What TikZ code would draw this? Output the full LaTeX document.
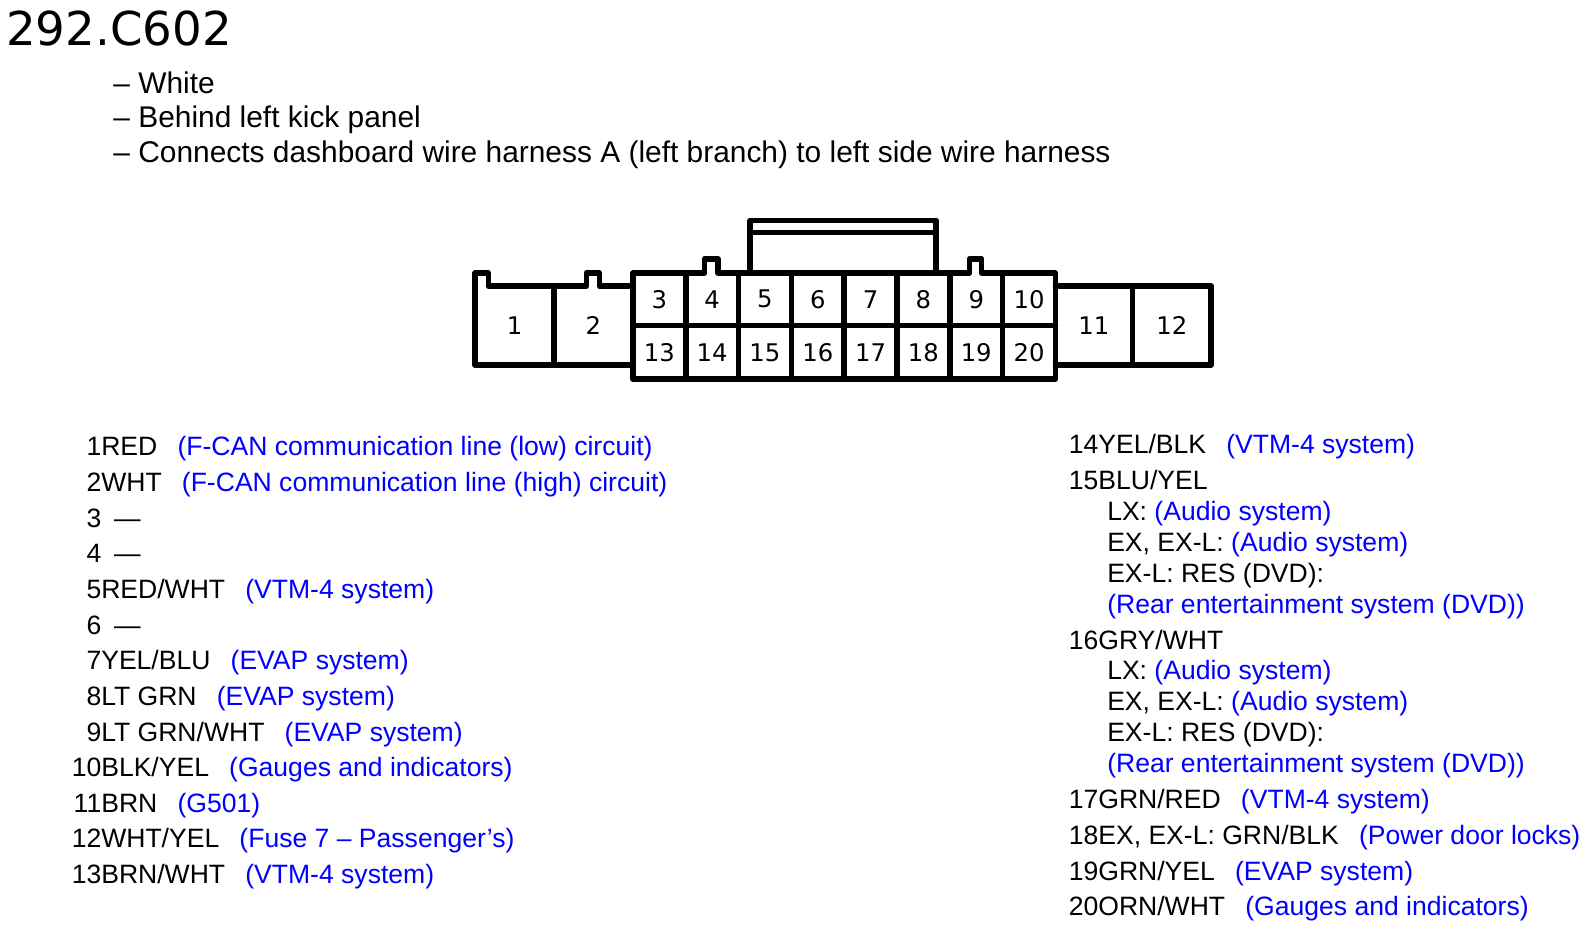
\documentclass[tikz,border=0pt]{standalone}
\usepackage{fontspec}
\setmainfont{Liberation Sans}
\newfontfamily\djv{DejaVu Sans}
\definecolor{refblue}{RGB}{0,0,255}
\newcommand{\gp}{\hspace{0.76em}}
\newcommand{\dsh}{\hspace{0.48em}—}
\newcommand{\bl}[1]{\textcolor{refblue}{#1}}
\begin{document}
\begin{tikzpicture}[x=1.011pt,y=-1.011pt,
  conn/.style={line width=5.56pt, line join=round, line cap=round},
  pin/.style={font=\djv\fontsize{24.3}{24.3}\selectfont, inner sep=0},
  hdr/.style={anchor=base west, inner sep=0, font=\fontsize{29.9}{30}\selectfont},
  item/.style={anchor=base west, inner sep=0, font=\fontsize{26.55}{28}\selectfont}]
\useasboundingbox (0pt,0pt) rectangle (1585pt,-930pt);
\fill[white] (0pt,0pt) rectangle (1585pt,-930pt);

% title and header
\node[anchor=base west, inner sep=0, font=\djv\fontsize{46.7}{46.7}\selectfont] (title) at (6,45) {292.C602};
\node[hdr] (h1) at (112,92.5) {– White};
\node[hdr] (h2) at (112,126.5) {– Behind left kick panel};
\node[hdr] (h3) at (112,160.5) {– Connects dashboard wire harness A (left branch) to left side wire harness};

% connector outline
\draw[conn] (626,361) -- (470,361) -- (470,270) -- (483,270) -- (483,283) -- (580,283) -- (580,270) -- (593,270) -- (593,283) -- (626,283);
\draw[conn] (548,283) -- (548,361);
\draw[conn] (626,375) -- (626,270) -- (697,270) -- (697,256) -- (710,256) -- (710,270) -- (959,270) -- (959,256) -- (971,256) -- (971,270) -- (1044,270) -- (1044,375) -- cycle;
\draw[conn] (626,322) -- (1044,322);
\foreach \k in {1,...,7} {\draw[conn] ({626+52.25*\k},270) -- ({626+52.25*\k},375);}
\draw[conn] (1044,283) -- (1198,283) -- (1198,361) -- (1044,361);
\draw[conn] (1120,283) -- (1120,361);
\draw[conn] (742,270) -- (742,218) -- (926,218) -- (926,270);
\draw[conn] (742,230) -- (926,230);

% pin labels
\node[pin] (p1) at (509,322) {1};
\node[pin] (p2) at (587,322) {2};
\foreach \n [count=\i from 0] in {3,...,10} {\node[pin] (p\n) at ({652.1+52.25*\i},296) {\n};}
\foreach \n [count=\i from 0] in {13,...,20} {\node[pin] (p\n) at ({652.1+52.25*\i},348.5) {\n};}
\node[pin] (p11) at (1082,322) {11};
\node[pin] (p12) at (1159,322) {12};

% left list
\node[item] (l1) at (100,451) {\llap{1}RED\gp\bl{(F-CAN communication line (low) circuit)}};
\node[item] (l2) at (100,486.25) {\llap{2}WHT\gp\bl{(F-CAN communication line (high) circuit)}};
\node[item] (l3) at (100,521.5) {\llap{3}\dsh};
\node[item] (l4) at (100,556.75) {\llap{4}\dsh};
\node[item] (l5) at (100,592) {\llap{5}RED/WHT\gp\bl{(VTM-4 system)}};
\node[item] (l6) at (100,627.25) {\llap{6}\dsh};
\node[item] (l7) at (100,662.5) {\llap{7}YEL/BLU\gp\bl{(EVAP system)}};
\node[item] (l8) at (100,697.75) {\llap{8}LT GRN\gp\bl{(EVAP system)}};
\node[item] (l9) at (100,733) {\llap{9}LT GRN/WHT\gp\bl{(EVAP system)}};
\node[item] (l10) at (100,768.25) {\llap{10}BLK/YEL\gp\bl{(Gauges and indicators)}};
\node[item] (l11) at (100,803.5) {\llap{11}BRN\gp\bl{(G501)}};
\node[item] (l12) at (100,838.75) {\llap{12}WHT/YEL\gp\bl{(Fuse 7 – Passenger’s)}};
\node[item] (l13) at (100,874) {\llap{13}BRN/WHT\gp\bl{(VTM-4 system)}};

% right list
\node[item] (r14) at (1057,449) {14YEL/BLK\gp\bl{(VTM-4 system)}};
\node[item] (r15) at (1057,484.5) {15BLU/YEL};
\node[item] (r15a) at (1095,515) {LX: \bl{(Audio system)}};
\node[item] (r15b) at (1095,545.5) {EX, EX-L: \bl{(Audio system)}};
\node[item] (r15c) at (1095,576) {EX-L: RES (DVD):};
\node[item] (r15d) at (1095,606.5) {\bl{(Rear entertainment system (DVD))}};
\node[item] (r16) at (1057,642) {16GRY/WHT};
\node[item] (r16a) at (1095,672.5) {LX: \bl{(Audio system)}};
\node[item] (r16b) at (1095,703) {EX, EX-L: \bl{(Audio system)}};
\node[item] (r16c) at (1095,733.5) {EX-L: RES (DVD):};
\node[item] (r16d) at (1095,764) {\bl{(Rear entertainment system (DVD))}};
\node[item] (r17) at (1057,799.5) {17GRN/RED\gp\bl{(VTM-4 system)}};
\node[item] (r18) at (1057,835) {18EX, EX-L: GRN/BLK\gp\bl{(Power door locks)}};
\node[item] (r19) at (1057,870.5) {19GRN/YEL\gp\bl{(EVAP system)}};
\node[item] (r20) at (1057,906) {20ORN/WHT\gp\bl{(Gauges and indicators)}};
\end{tikzpicture}
\end{document}
